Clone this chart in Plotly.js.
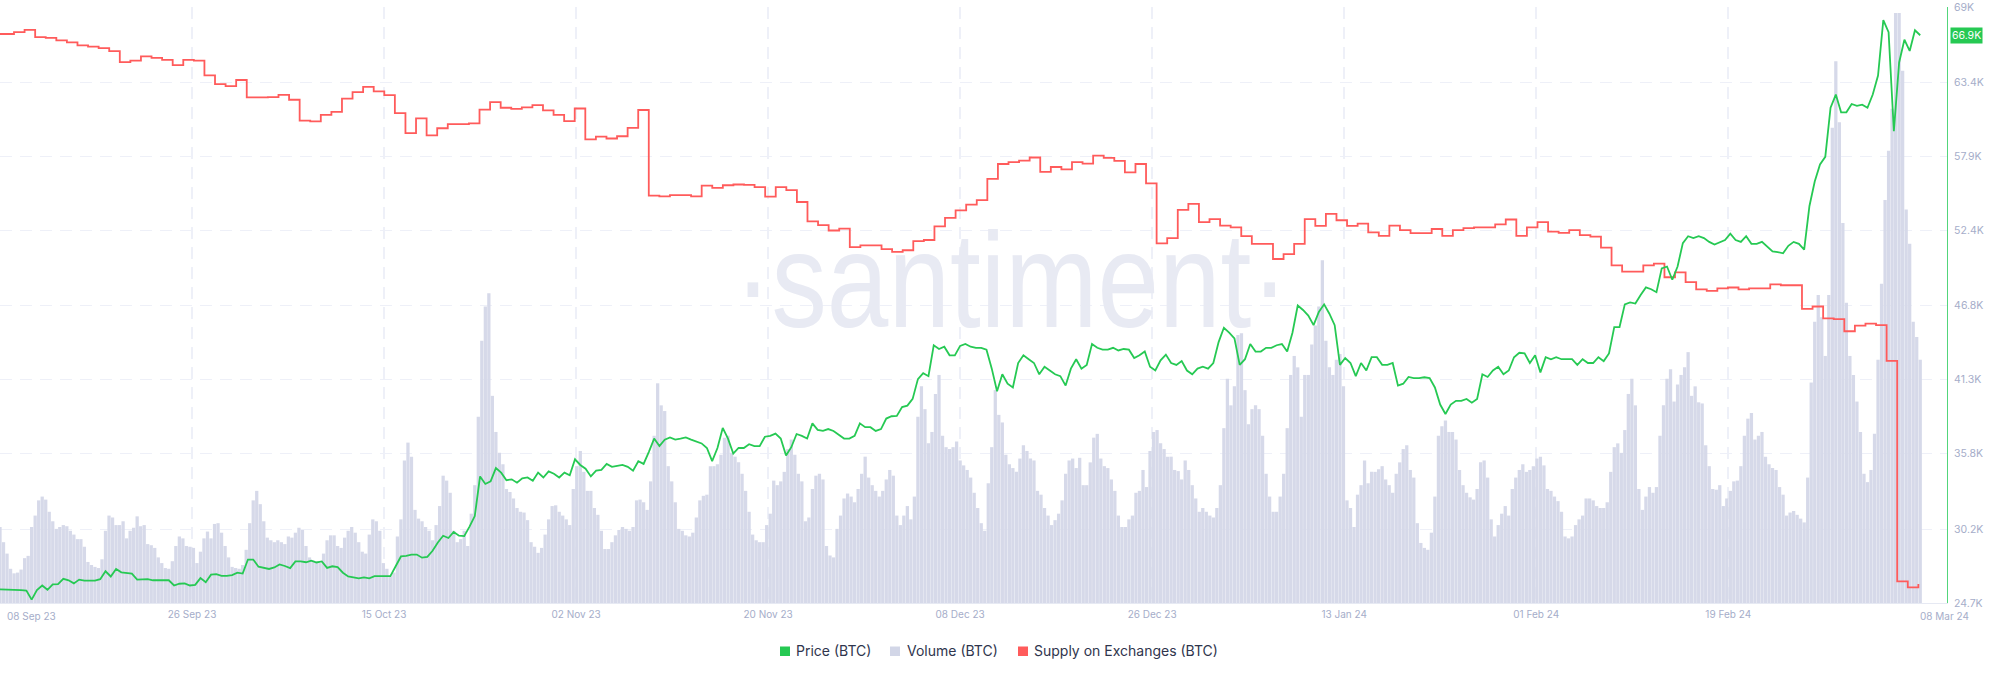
<!DOCTYPE html>
<html><head><meta charset="utf-8">
<script src="https://cdn.plot.ly/plotly-3.0.1.min.js"></script>
<style>html,body{margin:0;padding:0;background:#fff}#c{width:1999px;height:677px}</style>
</head><body><div id="c"></div>
<script>
const seriesNames = ['Price (BTC)','Volume (BTC)','Supply on Exchanges (BTC)'];
const seriesColors = ['#26c953','#d2d6e7','#ff5b5b'];
const xTickDays = [0,18.15,36.3,54.45,72.6,90.75,108.9,127.05,145.2,163.35];
const xTickLabels = ['','26 Sep 23','15 Oct 23','02 Nov 23','20 Nov 23','08 Dec 23','26 Dec 23','13 Jan 24','01 Feb 24','19 Feb 24'];
const firstDateLabel = '08 Sep 23';
const lastDateLabel = '08 Mar 24';
const priceTicks = [24.7,30.2,35.8,41.3,46.8,52.4,57.9,63.4,69];
const priceTickLabels = ['24.7K','30.2K','35.8K','41.3K','46.8K','52.4K','57.9K','63.4K','69K'];
const latestPriceLabel = '66.9K';
const latestPrice = 66.9;
const spanDays = 181.5;

// price, thousands of USD, one reading per half day
const price = [
25.71,25.71,25.71,25.68,25.66,25.63,24.95,25.66,26.0,25.68,26.08,26.1,26.5,26.39,26.16,26.44,26.36,26.36,26.36,26.47,27.06,26.67,27.23,26.98,26.95,26.89,26.44,26.44,26.47,26.39,26.39,26.39,26.39,26.0,26.13,26.16,26.0,26.05,26.55,26.25,26.81,26.84,26.72,26.72,26.78,26.95,26.89,27.93,27.93,27.4,27.31,27.23,27.34,
27.57,27.45,27.29,27.79,27.79,27.73,27.85,27.71,27.79,27.31,27.43,27.37,26.95,26.67,26.61,26.53,26.61,26.53,26.7,26.7,26.67,26.7,27.43,28.16,28.21,28.3,28.3,28.07,28.13,28.58,29.2,29.7,29.53,29.98,29.7,29.67,30.38,31.16,34.11,33.55,33.75,34.73,34.39,33.83,33.89,33.64,33.97,34.03,33.78,34.39,34.03,34.48,
34.31,34.03,34.39,34.2,35.38,34.96,34.68,34.11,34.54,34.59,35.04,34.82,34.9,34.96,34.82,34.54,35.24,35.04,35.94,36.92,36.36,36.84,37.01,36.84,36.92,37.01,36.84,36.7,36.56,36.22,35.24,36.22,37.71,36.92,35.8,36.22,36.22,36.5,36.36,36.36,37.06,37.12,37.29,36.92,35.66,36.28,37.26,37.12,36.92,38.05,37.57,37.49,
37.63,37.49,37.2,36.92,36.92,37.12,38.05,37.77,37.77,37.49,37.63,38.41,38.58,38.61,39.26,39.37,39.87,41.34,41.78,41.56,43.86,43.58,43.75,43.11,43.11,43.81,43.95,43.75,43.67,43.67,43.53,42.12,40.44,41.7,41.0,40.72,42.54,43.11,42.82,42.54,41.7,42.26,41.98,41.7,41.56,40.86,42.12,42.82,42.12,42.4,43.95,43.67,
43.53,43.53,43.67,43.47,43.58,43.53,42.91,43.11,43.39,42.26,41.98,42.74,43.16,42.54,42.4,42.68,41.98,41.7,42.12,42.26,42.12,42.54,44.09,45.16,44.79,44.37,42.4,42.82,43.95,43.39,43.39,43.67,43.67,43.86,43.95,43.39,44.79,46.81,46.48,46.06,45.35,46.34,46.9,46.2,45.35,42.4,42.91,42.54,41.56,42.54,41.98,42.97,
42.97,42.4,42.4,42.54,40.86,41.0,41.5,41.42,41.42,41.48,41.42,40.72,39.45,38.75,39.45,39.73,39.73,39.87,39.59,39.87,41.7,41.5,41.98,42.26,41.7,41.98,42.97,43.3,43.25,42.54,43.11,41.84,42.97,42.82,42.97,42.82,42.82,42.82,42.4,42.82,42.54,42.54,42.97,42.68,43.25,45.21,45.21,46.9,47.04,46.96,47.6,48.16,
48.02,47.8,49.57,49.71,48.73,49.71,51.45,51.96,51.82,51.96,51.82,51.54,51.34,51.54,51.68,52.15,51.68,51.54,51.96,51.4,51.4,51.54,51.17,50.83,50.78,50.69,51.25,51.54,51.4,50.97,54.21,56.03,57.3,57.86,61.51,62.49,61.17,61.17,61.79,61.65,61.74,61.51,62.49,63.9,68.03,67.13,59.77,64.88,66.57,65.73,67.27,66.9
];

// volume, relative units, one reading every eight hours
const volume = [
200,160,130,90,78,80,88,118,124,200,230,270,280,272,240,215,195,200,205,202,190,180,168,168,148,108,100,95,92,115,190,230,225,205,205,215,170,190,198,228,202,205,155,152,145,120,105,92,90,110,150,175,170,150,148,145,105,135,170,188,170,208,210,185,150,120,95,92,90,100,140,210,270,295,260,215,172,165,160,
165,160,155,175,172,185,198,192,150,120,112,110,105,130,165,178,178,150,145,172,190,200,185,160,135,130,180,220,215,190,105,90,70,80,175,220,375,422,385,245,222,215,200,190,165,205,255,335,322,290,190,160,168,190,150,235,310,490,690,780,815,545,450,395,365,300,292,275,250,240,238,218,160,148,132,145,180,220,
255,257,240,230,220,205,300,360,400,345,295,295,250,232,190,142,142,160,178,192,200,195,190,200,270,272,265,245,320,440,578,520,505,360,320,265,195,190,178,175,185,225,270,282,285,360,360,365,390,435,440,395,385,370,340,295,240,180,165,160,160,205,235,322,310,320,345,405,430,390,340,320,215,225,300,335,340,325,
150,125,120,195,230,275,288,280,265,300,340,385,330,310,295,280,295,325,350,335,230,205,230,255,220,280,490,570,510,420,450,550,600,440,410,405,410,425,375,362,350,330,290,250,210,190,315,410,560,495,475,390,365,355,345,380,415,400,380,375,295,285,250,230,205,218,235,270,340,375,380,355,382,310,310,370,435,445,
380,360,355,325,295,230,200,200,220,230,290,295,350,305,400,450,455,420,405,385,385,350,347,325,375,350,310,275,240,250,240,230,225,250,310,460,590,520,570,705,710,560,470,510,520,510,440,340,280,240,240,280,340,460,600,650,620,490,600,600,680,730,780,902,690,620,600,640,655,570,270,250,200,285,310,375,315,345,
345,352,360,325,310,290,340,370,405,415,350,330,210,158,145,140,185,280,440,465,480,450,450,430,350,310,290,278,272,300,370,375,330,220,175,205,235,255,230,300,330,350,365,345,350,360,380,385,362,300,295,280,268,240,175,170,175,205,220,230,275,275,270,255,250,250,265,345,410,420,395,455,550,590,520,300,245,280,
305,290,305,440,520,590,615,530,575,600,620,660,545,570,528,525,415,360,300,298,310,255,275,295,320,322,360,440,485,500,430,440,450,385,365,355,350,305,285,230,238,242,232,222,212,330,580,740,810,752,650,810,1250,1425,1265,1000,790,650,600,530,450,340,318,350,445,640,840,1060,1190,1300,1552,1552,1400,1035,945,740,700,640
];

// supply on exchanges, relative units, one reading per day
const supply = [
1497,1497,1502,1508,1489,1487,1480,1475,1467,1464,1460,1452,1423,1427,1438,1434,1429,1415,1429,1427,1388,1365,1360,1376,1330,1330,1331,
1337,1324,1269,1267,1284,1292,1327,1344,1358,1346,1336,1289,1236,1275,1230,1249,1260,1260,1262,1298,1318,1303,1300,1304,1310,1296,
1284,1268,1301,1220,1227,1222,1228,1250,1297,1072,1070,1073,1073,1070,1098,1092,1099,1101,1100,1094,1069,1094,1086,1055,1004,994,
980,985,936,941,941,931,924,928,952,955,991,1013,1033,1048,1060,1116,1155,1160,1164,1172,1134,1147,1141,1160,1156,1177,
1171,1163,1133,1155,1104,946,960,1034,1050,1002,1010,993,988,965,945,945,905,918,945,1010,992,1024,1007,992,998,975,
966,993,981,973,973,984,966,981,986,988,988,996,1009,966,988,1002,977,974,981,968,964,935,888,872,872,888,
893,857,870,844,825,821,828,830,825,828,828,838,836,836,774,780,749,747,715,730,735,731,637,57,41,50
];

const priceX = price.map((_, i) => i * spanDays / (price.length - 1));
const volumeX = volume.map((_, i) => i * spanDays / (volume.length - 1));
const supplyX = supply.map((_, i) => i - 0.677);

const axisFont = {family:'Inter, Liberation Sans, sans-serif', size:10.5, color:'#a5adc9'};
const xTickFont = {family:'Inter, Liberation Sans, sans-serif', size:10, color:'#a5adc9'};
const gridColor = '#eef0f8';
const legendX = [[780,790,794],[890,900,905],[1018,1028,1032]];
const W = 1947, H = 596;

const traces = [
 {x:[95.6], y:[47.75], mode:'text', text:['·santiment·'], textposition:'middle center',
  textfont:{family:'Liberation Sans, sans-serif', size:135, color:'#e8eaf3'},
  xaxis:'x', yaxis:'y', hoverinfo:'skip', showlegend:false},
 {type:'bar', name:seriesNames[1], x:volumeX, y:volume, marker:{color:'#d6d9e9', line:{width:0}},
  xaxis:'x', yaxis:'y2', hoverinfo:'skip'},
 {type:'scatter', mode:'lines', name:seriesNames[2], x:supplyX, y:supply,
  line:{color:seriesColors[2], width:1.8, shape:'hv'}, xaxis:'x', yaxis:'y3', hoverinfo:'skip'},
 {type:'scatter', mode:'lines', name:seriesNames[0], x:priceX, y:price,
  line:{color:seriesColors[0], width:1.8}, xaxis:'x', yaxis:'y4', hoverinfo:'skip'}
];

const annotations = [
 {xref:'paper',yref:'paper',x:5/W,y:-13/H,xanchor:'left',yanchor:'middle',text:firstDateLabel,showarrow:false,font:xTickFont},
 {xref:'paper',yref:'paper',x:1918/W,y:-13/H,xanchor:'left',yanchor:'middle',text:lastDateLabel,showarrow:false,font:xTickFont},
 {xref:'paper',yref:'y',x:1950/W,y:latestPrice,xanchor:'left',yanchor:'middle',text:latestPriceLabel,showarrow:false,
  bgcolor:seriesColors[0],borderpad:1,font:{family:axisFont.family,size:10.5,color:'#ffffff'}}
];
const shapes = [];
seriesNames.forEach((n,i)=>{
  const [a,b,t] = legendX[i];
  shapes.push({type:'rect',xref:'paper',yref:'paper',x0:a/W,x1:b/W,y0:-(656-603)/H,y1:-(646.5-603)/H,
    fillcolor:seriesColors[i],line:{width:0}});
  annotations.push({xref:'paper',yref:'paper',x:t/W,y:-(651-603)/H,xanchor:'left',yanchor:'middle',text:n,showarrow:false,
    font:{family:'Inter, Liberation Sans, sans-serif',size:14,color:'#2f354d'}});
});

const hidden = (range)=>({overlaying:'y',range:range,visible:false,fixedrange:true});
const layout = {
  width:1999,height:677,margin:{l:0,r:52,t:7,b:74,pad:0},
  paper_bgcolor:'#fff',plot_bgcolor:'#fff',showlegend:false,barmode:'overlay',bargap:0.07,
  xaxis:{range:[0,184.03],tickmode:'array',tickvals:xTickDays,ticktext:xTickLabels,ticks:'',
    showgrid:true,gridcolor:gridColor,griddash:'12px,8px',gridwidth:1.5,zeroline:false,
    showline:true,linecolor:'#e6e9f3',linewidth:1,tickfont:xTickFont,fixedrange:true,ticklabelstandoff:2},
  yaxis:{range:[24.7,69],side:'right',tickmode:'array',tickvals:priceTicks,ticktext:priceTickLabels,
    ticks:'outside',ticklen:4,tickcolor:'rgba(0,0,0,0)',showgrid:true,gridcolor:gridColor,griddash:'12px,8px',gridwidth:1,
    zeroline:false,showline:true,linecolor:'#52d67b',linewidth:1,tickfont:axisFont,fixedrange:true,anchor:'x'},
  yaxis2:hidden([0,1568]),
  yaxis3:hidden([0,1568]),
  yaxis4:hidden([24.7,69]),
  annotations:annotations,shapes:shapes
};
Plotly.newPlot('c',traces,layout,{displayModeBar:false,staticPlot:true}).then(()=>{
  // the watermark wordmark in the reference is condensed: narrow the real text around its centre
  document.querySelectorAll('.textpoint text').forEach(t=>{
    const b = t.getBBox(); const cx = b.x + b.width/2;
    t.setAttribute('transform', `translate(${cx},0) scale(0.82,1) translate(${-cx},0)`);
  });
});
</script></body></html>
